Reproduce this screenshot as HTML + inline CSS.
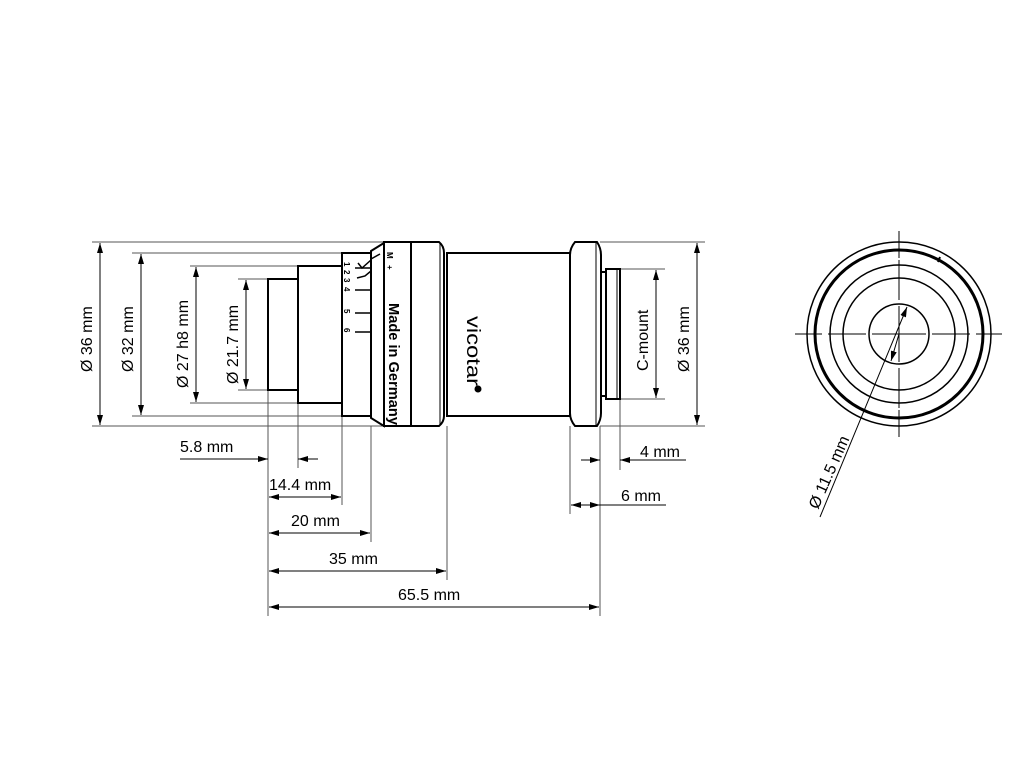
<!DOCTYPE html>
<html><head><meta charset="utf-8"><style>html,body{margin:0;padding:0;background:#fff}svg{display:block}text{font-family:"Liberation Sans",sans-serif;fill:#000}</style></head>
<body>
<svg width="1024" height="768" viewBox="0 0 1024 768" xmlns="http://www.w3.org/2000/svg">
<defs>
<marker id="a" viewBox="0 0 10 6" refX="10" refY="3" markerWidth="10" markerHeight="6" orient="auto-start-reverse" markerUnits="userSpaceOnUse"><path d="M0,0 L10,3 L0,6z" fill="#000"/></marker>
</defs>
<g stroke="#555" stroke-width="1" fill="none">
<line x1="92" y1="242" x2="384" y2="242"/><line x1="92" y1="426" x2="384" y2="426"/>
<line x1="132" y1="253" x2="342" y2="253"/><line x1="132" y1="416" x2="342" y2="416"/>
<line x1="190" y1="266" x2="298" y2="266"/><line x1="190" y1="403" x2="298" y2="403"/>
<line x1="238" y1="279" x2="268" y2="279"/><line x1="238" y1="390" x2="268" y2="390"/>
<line x1="268" y1="390" x2="268" y2="616"/>
<line x1="298" y1="403" x2="298" y2="468"/>
<line x1="342" y1="416" x2="342" y2="505"/>
<line x1="371" y1="426" x2="371" y2="542"/>
<line x1="447" y1="426" x2="447" y2="580"/>
<line x1="600" y1="426" x2="600" y2="616"/>
<line x1="570" y1="426" x2="570" y2="514"/>
<line x1="620" y1="399" x2="620" y2="470"/>
<line x1="600" y1="242" x2="705" y2="242"/><line x1="600" y1="426" x2="705" y2="426"/>
<line x1="620" y1="269" x2="665" y2="269"/><line x1="620" y1="399" x2="665" y2="399"/>
</g>
<g stroke="#000" stroke-width="1" fill="none">
<line x1="100" y1="243" x2="100" y2="425" marker-start="url(#a)" marker-end="url(#a)"/>
<line x1="141" y1="254" x2="141" y2="415" marker-start="url(#a)" marker-end="url(#a)"/>
<line x1="196" y1="267" x2="196" y2="402" marker-start="url(#a)" marker-end="url(#a)"/>
<line x1="246" y1="280" x2="246" y2="389" marker-start="url(#a)" marker-end="url(#a)"/>
<line x1="697" y1="243" x2="697" y2="425" marker-start="url(#a)" marker-end="url(#a)"/>
<line x1="656" y1="270" x2="656" y2="398" marker-start="url(#a)" marker-end="url(#a)"/>
<line x1="180" y1="459" x2="268" y2="459" marker-end="url(#a)"/>
<line x1="318" y1="459" x2="298" y2="459" marker-end="url(#a)"/>
<line x1="269" y1="497" x2="341" y2="497" marker-start="url(#a)" marker-end="url(#a)"/>
<line x1="269" y1="533" x2="370" y2="533" marker-start="url(#a)" marker-end="url(#a)"/>
<line x1="269" y1="571" x2="446" y2="571" marker-start="url(#a)" marker-end="url(#a)"/>
<line x1="269" y1="607" x2="599" y2="607" marker-start="url(#a)" marker-end="url(#a)"/>
<line x1="581" y1="460" x2="600" y2="460" marker-end="url(#a)"/>
<line x1="686" y1="460" x2="620" y2="460" marker-end="url(#a)"/>
<line x1="571" y1="505" x2="585" y2="505" marker-start="url(#a)"/>
<line x1="585" y1="505" x2="600" y2="505" marker-end="url(#a)"/>
<line x1="600" y1="505" x2="666" y2="505"/>
</g>
<g stroke="#000" stroke-width="2" fill="#fff">
<rect x="268" y="279" width="30" height="111"/>
<rect x="298" y="266" width="44" height="137"/>
<rect x="342" y="253" width="29" height="163"/>
<path d="M371,251 L384,243 L384,426 L371,418 Z"/>
<path d="M384,242 L439,242 Q444,246 444,253 L444,416 Q444,422 439,426 L384,426 Z"/>
<line x1="411" y1="242" x2="411" y2="426"/>
<line x1="440" y1="243" x2="440" y2="425" stroke-width="1"/>
<rect x="447" y="253" width="123" height="163"/>
<path d="M575,242 L597,242 Q601,248 601,255 L601,413 Q601,420 597,426 L575,426 Q570,420 570,413 L570,255 Q570,248 575,242 Z"/>
<line x1="596" y1="243" x2="596" y2="425" stroke-width="1"/>
<rect x="601" y="272" width="5" height="124"/>
<rect x="606" y="269" width="14" height="130"/>
<line x1="617" y1="270" x2="617" y2="398" stroke-width="1"/>
</g>
<g stroke="#000" stroke-width="1.5" fill="none">
<path d="M358,263 L362,268 L371,260"/><line x1="355" y1="268" x2="371" y2="268"/><path d="M357,278 L365,276 L371,271"/>
<line x1="355" y1="290" x2="371" y2="290"/><line x1="355" y1="313" x2="371" y2="313"/><line x1="355" y1="332" x2="371" y2="332"/>
<path d="M371,259 L380,254"/>
</g>
<g font-size="8" font-weight="bold">
<text transform="translate(344,262) rotate(90)">1</text>
<text transform="translate(344,270) rotate(90)">2</text>
<text transform="translate(344,278) rotate(90)">3</text>
<text transform="translate(344,287) rotate(90)">4</text>
<text transform="translate(344,309) rotate(90)">5</text>
<text transform="translate(344,328) rotate(90)">6</text>
<text transform="translate(387,252) rotate(90)">M</text>
<text transform="translate(387,265) rotate(90)">+</text>
</g>
<text transform="translate(389,303) rotate(90)" font-size="15" font-weight="bold" textLength="122" lengthAdjust="spacingAndGlyphs">Made in Germany</text>
<text transform="translate(467,316) rotate(90)" font-size="19" textLength="70" lengthAdjust="spacingAndGlyphs">vicotar</text>
<circle cx="478" cy="389" r="3.5" fill="#000"/>
<g font-size="16">
<text transform="translate(92,372) rotate(-90)">Ø 36 mm</text>
<text transform="translate(133,372) rotate(-90)">Ø 32 mm</text>
<text transform="translate(188,388) rotate(-90)">Ø 27 h8 mm</text>
<text transform="translate(238,384) rotate(-90)">Ø 21.7 mm</text>
<text transform="translate(689,372) rotate(-90)">Ø 36 mm</text>
<text transform="translate(648,371) rotate(-90)">C-mount</text>
<text x="180" y="452">5.8 mm</text>
<text x="269" y="490">14.4 mm</text>
<text x="291" y="526">20 mm</text>
<text x="329" y="564">35 mm</text>
<text x="398" y="600">65.5 mm</text>
<text x="640" y="457">4 mm</text>
<text x="621" y="501">6 mm</text>
<text transform="translate(818,510) rotate(-66)">Ø 11.5 mm</text>
</g>
<g stroke="#000" fill="none">
<circle cx="899" cy="334" r="92" stroke-width="1.5"/>
<circle cx="899" cy="334" r="84" stroke-width="3"/>
<circle cx="899" cy="334" r="69" stroke-width="1.5"/>
<circle cx="899" cy="334" r="56" stroke-width="1.5"/>
<circle cx="899" cy="334" r="30" stroke-width="1.5"/>
<line x1="940" y1="257" x2="938" y2="262" stroke-width="2"/>
<g stroke-width="1">
<line x1="899" y1="231" x2="899" y2="258"/><line x1="899" y1="260" x2="899" y2="300"/>
<line x1="899" y1="306" x2="899" y2="362"/><line x1="899" y1="368" x2="899" y2="408"/><line x1="899" y1="410" x2="899" y2="437"/>
<line x1="795" y1="334" x2="822" y2="334"/><line x1="828" y1="334" x2="866" y2="334"/>
<line x1="872" y1="334" x2="926" y2="334"/><line x1="932" y1="334" x2="970" y2="334"/><line x1="976" y1="334" x2="1002" y2="334"/>
<line x1="820" y1="517" x2="907" y2="307" marker-end="url(#a)"/>
<line x1="899" y1="334" x2="891" y2="361" marker-end="url(#a)"/>
</g>
</g>
</svg>
</body></html>
